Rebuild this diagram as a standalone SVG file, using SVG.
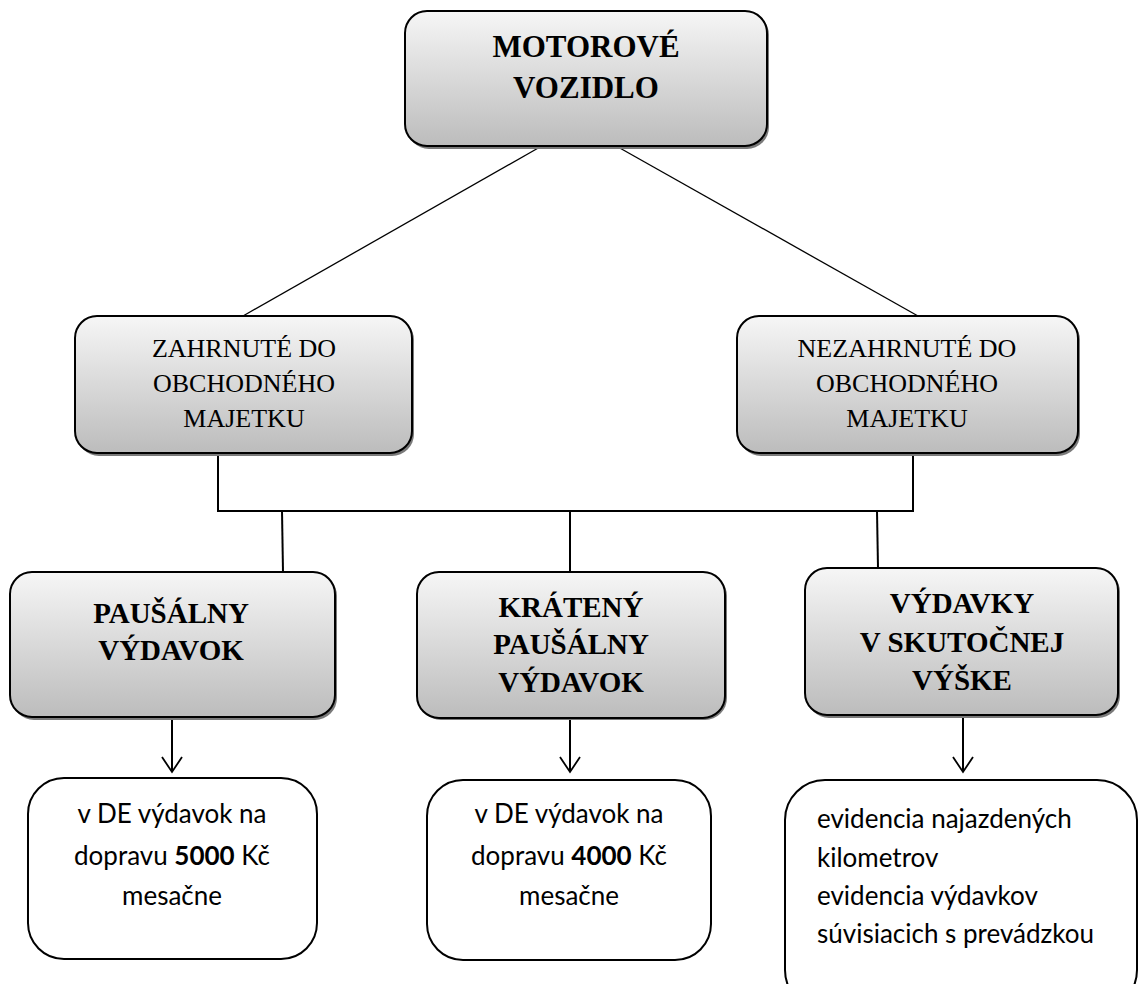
<svg xmlns="http://www.w3.org/2000/svg" width="1139" height="984" viewBox="0 0 1139 984">
<style>
.box{fill:url(#g);stroke:#000;stroke-width:2}
.sh{fill:#7a7a7a}
.wb{fill:#fff;stroke:#000;stroke-width:2}
.ln{stroke:#000;stroke-width:1.3;fill:none}
.ln2{stroke:#000;stroke-width:2;fill:none}
.tb{font-family:"Liberation Serif",serif;font-weight:bold;font-size:31px;text-anchor:middle;fill:#000}
.tr{font-family:"Liberation Serif",serif;font-size:26px;text-anchor:middle;fill:#000}
.tc{font-family:Lato,"Liberation Sans",sans-serif;font-size:26px;fill:#000}
</style>
<defs>
<linearGradient id="g" x1="0" y1="0" x2="0" y2="1">
<stop offset="0" stop-color="#f6f6f6"/>
<stop offset="1" stop-color="#bcbcbc"/>
</linearGradient>
<marker id="arr" markerWidth="20" markerHeight="24" refX="17" refY="12" orient="auto" markerUnits="userSpaceOnUse" viewBox="0 0 20 24">
<path d="M2,2 L17,12 L2,22" fill="none" stroke="#000" stroke-width="1.8"/>
</marker>
</defs>
<g id="connectors">
<line class="ln" x1="540" y1="147" x2="243" y2="316"/>
<line class="ln" x1="618" y1="147" x2="918" y2="316"/>
<polyline class="ln2" points="218,454 218,511 913,511 913,454"/>
<line class="ln2" x1="282" y1="511" x2="283" y2="572"/>
<line class="ln2" x1="570" y1="511" x2="570" y2="572"/>
<line class="ln2" x1="877" y1="511" x2="878" y2="568"/>
<line class="ln2" x1="172" y1="718" x2="172" y2="772" marker-end="url(#arr)"/>
<line class="ln2" x1="570" y1="718" x2="570" y2="772" marker-end="url(#arr)"/>
<line class="ln2" x1="963" y1="716" x2="963" y2="772" marker-end="url(#arr)"/>
</g>
<g id="n-motorove">
<rect class="sh" x="407" y="13" width="362" height="136" rx="22"/>
<rect class="box" x="405" y="11" width="362" height="135" rx="22"/>
<text class="tb" x="586" y="57">MOTOROVÉ</text>
<text class="tb" x="586" y="98">VOZIDLO</text>
</g>
<g id="n-zahrnute">
<rect class="sh" x="77" y="318" width="337" height="138" rx="22"/>
<rect class="box" x="75" y="316" width="337" height="137" rx="22"/>
<text class="tr" x="244" y="357">ZAHRNUTÉ DO</text>
<text class="tr" x="244" y="392">OBCHODNÉHO</text>
<text class="tr" x="244" y="427">MAJETKU</text>
</g>
<g id="n-nezahrnute">
<rect class="sh" x="739" y="318" width="341" height="138" rx="22"/>
<rect class="box" x="737" y="316" width="341" height="137" rx="22"/>
<text class="tr" x="907" y="357">NEZAHRNUTÉ DO</text>
<text class="tr" x="907" y="392">OBCHODNÉHO</text>
<text class="tr" x="907" y="427">MAJETKU</text>
</g>
<g id="n-pausalny">
<rect class="sh" x="12" y="574" width="325" height="146" rx="22"/>
<rect class="box" x="10" y="572" width="325" height="145" rx="22"/>
<text class="tb" x="171" y="623" style="font-size:29px">PAUŠÁLNY</text>
<text class="tb" x="171" y="660" style="font-size:29px">VÝDAVOK</text>
</g>
<g id="n-krateny">
<rect class="sh" x="419" y="574" width="308" height="146" rx="22"/>
<rect class="box" x="417" y="572" width="308" height="146" rx="22"/>
<text class="tb" x="571" y="617" style="font-size:29px">KRÁTENÝ</text>
<text class="tb" x="571" y="654" style="font-size:29px">PAUŠÁLNY</text>
<text class="tb" x="571" y="692" style="font-size:29px">VÝDAVOK</text>
</g>
<g id="n-skutocne">
<rect class="sh" x="807" y="570" width="313" height="148" rx="22"/>
<rect class="box" x="805" y="568" width="313" height="147" rx="22"/>
<text class="tb" x="962" y="613" style="font-size:29px">VÝDAVKY</text>
<text class="tb" x="962" y="652" style="font-size:29px">V SKUTOČNEJ</text>
<text class="tb" x="962" y="690" style="font-size:29px">VÝŠKE</text>
</g>
<g id="n-text1">
<rect class="wb" x="28" y="778" width="289" height="181" rx="36"/>
<text class="tc" x="172" y="823" text-anchor="middle">v DE výdavok na</text>
<text class="tc" x="172" y="865" text-anchor="middle">dopravu <tspan font-weight="bold">5000</tspan> Kč</text>
<text class="tc" x="172" y="905" text-anchor="middle">mesačne</text>
</g>
<g id="n-text2">
<rect class="wb" x="427" y="780" width="284" height="180" rx="36"/>
<text class="tc" x="569" y="823" text-anchor="middle">v DE výdavok na</text>
<text class="tc" x="569" y="865" text-anchor="middle">dopravu <tspan font-weight="bold">4000</tspan> Kč</text>
<text class="tc" x="569" y="905" text-anchor="middle">mesačne</text>
</g>
<g id="n-text3">
<rect class="wb" x="785" y="780" width="352" height="230" rx="40"/>
<text class="tc" x="817" y="828">evidencia najazdených</text>
<text class="tc" x="817" y="867">kilometrov</text>
<text class="tc" x="817" y="905">evidencia výdavkov</text>
<text class="tc" x="817" y="943">súvisiacich s prevádzkou</text>
</g>
</svg>
